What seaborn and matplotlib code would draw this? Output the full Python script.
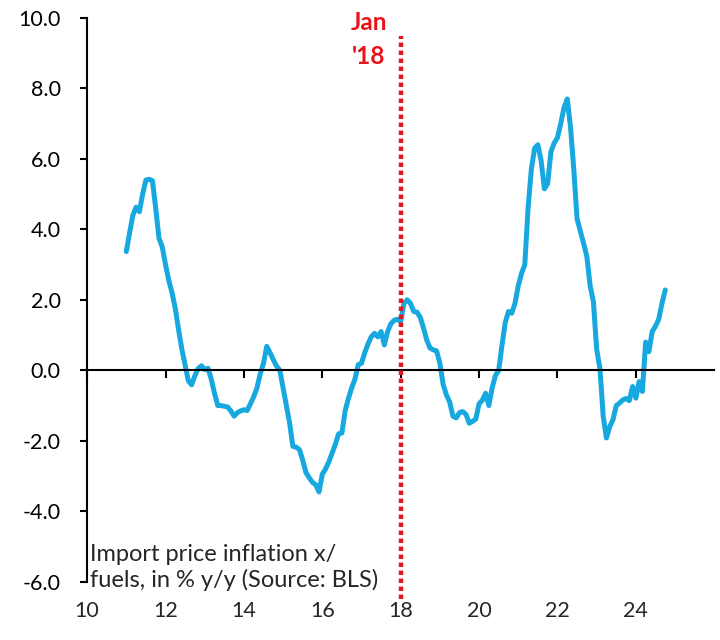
import numpy as np
import pandas as pd
import matplotlib
matplotlib.use("Agg")
import matplotlib.pyplot as plt
import seaborn as sns

# import price inflation ex fuels, % y/y, monthly (Jan..Dec)
y2011 = [3.37, 3.9, 4.4, 4.63, 4.5, 5.0, 5.4, 5.42, 5.38, 4.6, 3.75, 3.5]
y2012 = [3.0, 2.55, 2.2, 1.75, 1.15, 0.6, 0.15, -0.3, -0.41, -0.15, 0.05, 0.13]
y2013 = [0.02, 0.06, -0.25, -0.65, -1.0, -1.0, -1.02, -1.04, -1.15, -1.3, -1.2, -1.15]
y2014 = [-1.12, -1.14, -0.95, -0.75, -0.5, -0.1, 0.2, 0.68, 0.5, 0.3, 0.12, 0.0]
y2015 = [-0.5, -1.0, -1.5, -2.16, -2.18, -2.25, -2.55, -2.9, -3.05, -3.18, -3.25, -3.45]
y2016 = [-2.95, -2.8, -2.6, -2.35, -2.1, -1.8, -1.78, -1.15, -0.8, -0.5, -0.25, 0.16]
y2017 = [0.2, 0.5, 0.75, 0.95, 1.05, 0.95, 1.1, 0.72, 1.1, 1.32, 1.42, 1.45]
y2018 = [1.38, 1.9, 2.0, 1.9, 1.67, 1.65, 1.5, 1.2, 0.85, 0.63, 0.58, 0.55]
y2019 = [0.2, -0.4, -0.7, -0.9, -1.3, -1.35, -1.2, -1.17, -1.25, -1.5, -1.45, -1.38]
y2020 = [-0.95, -0.85, -0.65, -1.0, -0.5, -0.15, 0.0, 0.7, 1.35, 1.67, 1.62, 1.9]
y2021 = [2.4, 2.75, 3.0, 4.6, 5.7, 6.3, 6.4, 5.95, 5.15, 5.3, 6.2, 6.45]
y2022 = [6.6, 7.0, 7.45, 7.7, 6.9, 5.7, 4.3, 3.95, 3.6, 3.23, 2.4, 1.95]
y2023 = [0.6, 0.05, -1.3, -1.92, -1.6, -1.4, -1.0, -0.93, -0.84, -0.8, -0.86, -0.46]
y2024 = [-0.79, -0.32, -0.6, 0.8, 0.53, 1.1, 1.25, 1.45, 1.9, 2.28]

yearly = [y2011, y2012, y2013, y2014, y2015, y2016, y2017,
          y2018, y2019, y2020, y2021, y2022, y2023, y2024]
first_year = 11  # two-digit year of the first observation

y_ticks = [-6, -4, -2, 0, 2, 4, 6, 8, 10]
x_ticks = [10, 12, 14, 16, 18, 20, 22, 24]
marker_year = 18
marker_label = "Jan\n'18"
note = "Import price inflation x/\nfuels, in % y/y (Source: BLS)"

rows = []
for k, vals in enumerate(yearly):
    for m, v in enumerate(vals):
        rows.append({"year": first_year + k + m / 12.0, "value": v})
df = pd.DataFrame(rows)

sns.set_style("white")
plt.rcParams["font.family"] = ["Lato", "DejaVu Sans"]

fig = plt.figure(figsize=(7.2, 6.4), dpi=100)
ax = fig.add_axes([0.121, 0.091, 0.871, 0.881])

sns.lineplot(data=df, x="year", y="value", color="#18a8e0", linewidth=3.6, ax=ax)

# dotted marker line at Jan 2018
ax.vlines(marker_year, -6.5, 9.5, colors="#e8141b", linestyles=(0, (1, 0.8)),
          linewidth=3.2, clip_on=False, zorder=3)
ax.text(marker_year - 0.82, 10.2, marker_label, color="#e8141b", fontsize=17.5,
        fontweight="bold", ha="center", va="top", linespacing=1.6, clip_on=False)

ax.text(10.07, -5.6, note, fontsize=17, ha="left", va="center", linespacing=1.2)

ax.set_xlim(10, 26)
ax.set_ylim(-6, 10)
ax.set_yticks(y_ticks)
ax.set_yticklabels([f"{t:.1f}" for t in y_ticks])
ax.set_xlabel("")
ax.set_ylabel("")

for side in ["top", "right"]:
    ax.spines[side].set_visible(False)
ax.spines["left"].set_color("black")
ax.spines["left"].set_linewidth(1.5)
ax.spines["bottom"].set_position(("data", 0))
ax.spines["bottom"].set_color("black")
ax.spines["bottom"].set_linewidth(1.5)

ax.tick_params(axis="y", direction="out", length=5, width=1.5, labelsize=15.5,
               pad=14, left=True, colors="black")
ax.set_xticks(x_ticks)
ax.tick_params(axis="x", direction="out", length=6, width=1.5, bottom=True,
               labelbottom=False, colors="black")

# year labels sit at the bottom of the plot, away from the zero line
sec = ax.secondary_xaxis(0)
sec.set_xticks(x_ticks)
sec.set_xticklabels([str(t) for t in x_ticks])
sec.tick_params(length=0, labelsize=15.5, pad=14)
sec.spines["bottom"].set_visible(False)

fig.savefig("out.png", dpi=100)
